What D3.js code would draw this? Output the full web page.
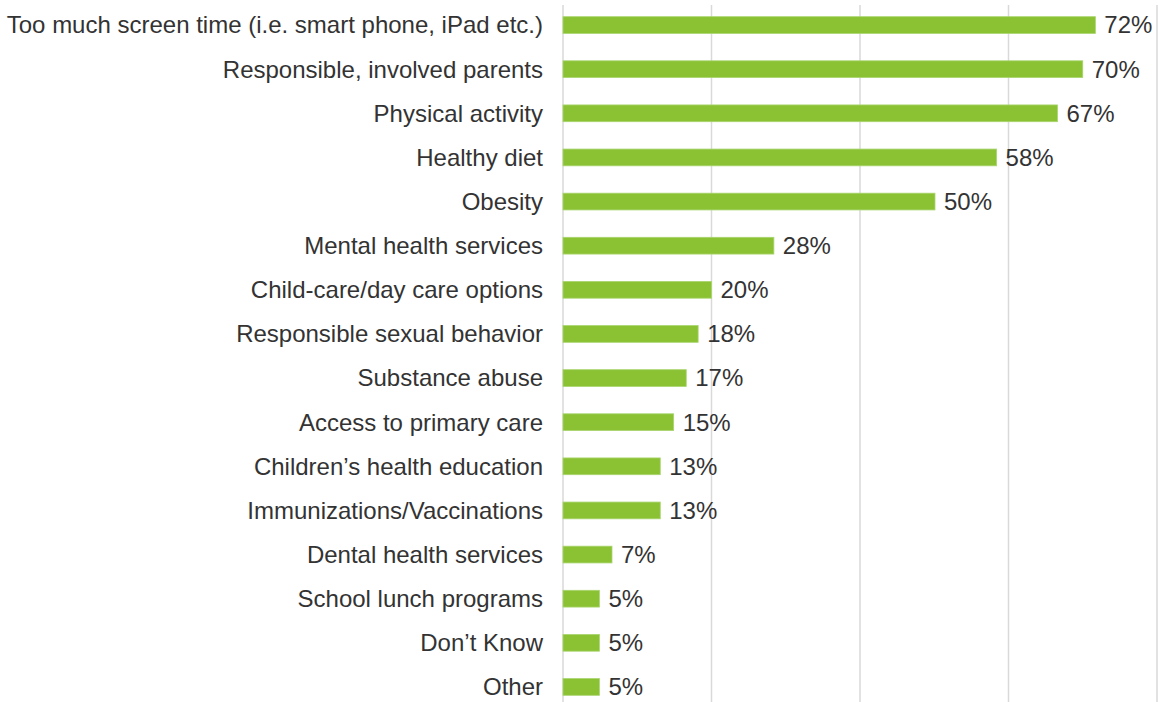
<!DOCTYPE html>
<html><head><meta charset="utf-8">
<script src="https://cdn.jsdelivr.net/npm/d3@7"></script>
<style>body{margin:0;background:#fff}text{font-family:"Liberation Sans",Arial,sans-serif}</style>
</head><body>
<svg id="c" width="1158" height="702"></svg>
<script>
const categories = ["Too much screen time (i.e. smart phone, iPad etc.)","Responsible, involved parents","Physical activity","Healthy diet","Obesity","Mental health services","Child-care/day care options","Responsible sexual behavior","Substance abuse","Access to primary care","Children\u2019s health education","Immunizations/Vaccinations","Dental health services","School lunch programs","Don\u2019t Know","Other"];
const values = [71.7,70,66.6,58.4,50.1,28.4,20,18.2,16.6,14.9,13.1,13.1,6.6,4.9,4.9,4.9];
const labels = ["72%","70%","67%","58%","50%","28%","20%","18%","17%","15%","13%","13%","7%","5%","5%","5%"];
const gridTicks = [0,20,40,60,80];

const svg = d3.select("#c");
const x = d3.scaleLinear().domain([0,80]).range([563,1157]);
const y = d3.scaleBand().domain(categories).range([3,709]).paddingInner(0.62).paddingOuter(0.31);

svg.append("g").selectAll("line").data(gridTicks).join("line")
  .attr("x1",d=>x(d)).attr("x2",d=>x(d)).attr("y1",5).attr("y2",702)
  .attr("stroke","#d9d9d9").attr("stroke-width",1.5);

svg.append("g").selectAll("rect").data(values).join("rect")
  .attr("x",x(0)).attr("y",(d,i)=>y(categories[i]))
  .attr("width",d=>x(d)-x(0)).attr("height",y.bandwidth())
  .attr("fill","#8bc234").attr("stroke","#a9d56e").attr("stroke-width",0.8);

svg.append("g").selectAll("text").data(categories).join("text")
  .attr("x",543).attr("y",d=>y(d)+y.bandwidth()/2).attr("dy","0.35em")
  .attr("text-anchor","end").attr("font-size",24).attr("fill","#333").text(d=>d);

svg.append("g").selectAll("text").data(values).join("text")
  .attr("x",d=>x(d)+9).attr("y",(d,i)=>y(categories[i])+y.bandwidth()/2).attr("dy","0.35em")
  .attr("font-size",24).attr("fill","#333").text((d,i)=>labels[i]);
</script>
</body></html>
